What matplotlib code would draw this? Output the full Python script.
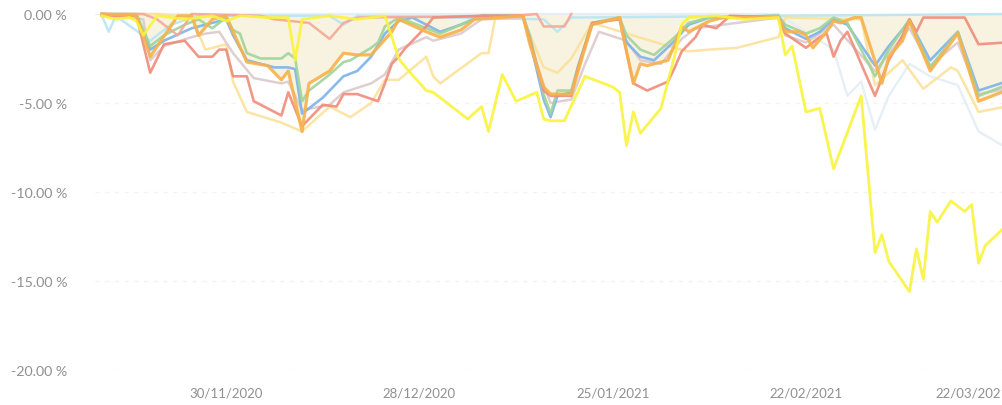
import matplotlib
matplotlib.use("Agg")
import matplotlib.pyplot as plt
import matplotlib.dates as mdates
import matplotlib.transforms as mtransforms
import pandas as pd

plt.rcParams['font.family'] = ['Lato', 'DejaVu Sans']

# drawdown series: day offsets from START and drawdown in %
START = pd.Timestamp('2020-11-12')

yellow_days = [0, 2, 4, 5, 6, 8, 12, 16, 18, 20, 24, 27, 28, 29, 33, 37, 41, 43, 44, 47, 48, 50,
               53, 55, 56, 58, 60, 63, 64, 65, 67, 70, 74, 75, 76, 77, 78, 81, 83, 84, 85, 89, 93,
               98, 99, 100, 102, 104, 106, 110, 112, 113, 114, 117, 118, 119, 120, 121, 123, 125,
               126, 127, 128, 131]
yellow_vals = [-0.1, -0.3, -0.2, -0.4, -1.2, -0.1, -0.3, -0.1, -0.4, -0.1, -0.2, -0.2, -2.6, -0.3,
               -0.1, -0.3, -0.1, -2.5, -3.0, -4.3, -4.4, -5.0, -5.9, -5.2, -6.6, -3.4, -4.9, -4.4,
               -5.9, -6.0, -6.0, -3.5, -4.1, -4.4, -7.4, -5.5, -6.7, -5.3, -2.3, -0.6, -0.2, -0.1,
               -0.3, -0.2, -2.3, -1.8, -5.5, -5.3, -8.7, -4.6, -13.4, -12.4, -13.9, -15.6, -13.2,
               -14.9, -11.1, -11.7, -10.5, -11.1, -10.7, -14.0, -13.0, -11.9]

orange_days = [0, 5, 7, 11, 13, 14, 16, 18, 19, 21, 24, 26, 27, 29, 30, 33, 35, 37, 39, 42, 43,
               47, 49, 52, 54, 61, 62, 64, 65, 68, 69, 70, 71, 75, 76, 77, 78, 79, 80, 82, 83, 84,
               85, 88, 90, 98, 99, 101, 102, 103, 105, 106, 107, 109, 110, 113, 114, 116, 117,
               120, 124, 127, 131]
orange_vals = [0.0, -0.1, -2.4, -0.1, -0.1, -1.2, -0.3, -0.1, -1.0, -2.7, -2.9, -3.7, -3.2, -6.6,
               -3.9, -3.2, -2.2, -2.3, -2.3, -1.0, -0.3, -1.0, -1.3, -0.9, -0.3, -0.1, -1.7, -4.1,
               -4.5, -4.5, -3.2, -1.9, -0.6, -0.2, -2.1, -3.9, -2.8, -2.9, -2.8, -2.6, -1.7, -0.7,
               -1.0, -0.4, -0.2, -0.2, -1.0, -1.0, -1.2, -1.9, -1.0, -0.4, -0.5, -0.2, -0.2, -3.9,
               -2.4, -1.5, -0.4, -3.2, -1.1, -4.9, -4.3]

salmon_days = [0, 5, 7, 9, 12, 14, 16, 17, 18, 19, 21, 22, 26, 27, 29, 32, 34, 35, 37, 40, 41, 42,
               43, 44, 47, 48, 55, 61, 62, 64, 65, 68, 69, 71, 75, 77, 79, 82, 83, 84, 86, 87, 89,
               91, 98, 99, 102, 104, 105, 106, 107, 108, 112, 114, 116, 117, 118, 119, 125, 127, 131]
salmon_vals = [-0.1, -0.1, -3.3, -1.7, -1.5, -2.4, -2.4, -2.0, -2.0, -3.5, -3.5, -4.9, -5.7, -4.4,
               -6.3, -5.1, -5.2, -4.5, -4.5, -4.9, -3.9, -2.8, -2.4, -1.9, -0.7, -0.2, -0.1, -0.1,
               -1.5, -4.3, -4.6, -4.6, -3.0, -0.5, -0.3, -3.9, -4.3, -3.8, -3.0, -2.1, -1.3, -0.6,
               -0.8, -0.1, -0.2, -1.1, -1.9, -1.3, -1.1, -2.4, -1.5, -1.0, -4.6, -2.6, -1.2, -0.3,
               -1.0, -0.2, -0.2, -1.7, -1.6]

coral_days = [0, 6, 8, 11, 13, 23, 25, 30, 33, 35, 37, 60, 63, 64, 67, 68]
coral_vals = [0.0, 0.0, -0.3, -1.2, 0.0, -0.1, -0.3, -0.5, -1.4, -0.5, -0.2, -0.1, 0.0, -0.7,
              -0.7, 0.0]

blue_days = [0, 5, 7, 9, 13, 16, 18, 19, 21, 23, 25, 27, 28, 29, 32, 35, 37, 39, 41, 43, 45, 47,
             49, 52, 55, 61, 62, 64, 65, 66, 68, 69, 71, 75, 76, 78, 80, 83, 85, 88, 98, 99, 102,
             104, 106, 108, 112, 114, 117, 120, 124, 127, 131]
blue_vals = [0.0, -0.1, -2.0, -1.5, -0.8, -0.5, -0.3, -1.2, -2.6, -2.8, -3.0, -3.0, -3.1, -5.6,
             -4.7, -3.5, -3.2, -2.4, -1.1, -0.4, -0.2, -0.6, -1.0, -0.6, -0.1, -0.1, -1.5, -4.8,
             -5.8, -4.6, -4.4, -3.0, -0.6, -0.2, -1.6, -2.4, -2.6, -1.5, -0.6, -0.2, -0.1, -0.8,
             -1.4, -1.0, -0.3, -0.6, -2.9, -1.8, -0.4, -2.6, -1.0, -4.3, -3.8]

green_days = [0, 5, 7, 9, 12, 14, 16, 18, 19, 20, 21, 23, 26, 27, 28, 29, 30, 33, 35, 36, 39, 40,
              41, 43, 47, 49, 52, 55, 61, 62, 64, 65, 66, 68, 69, 71, 75, 76, 78, 80, 83, 85, 88,
              98, 99, 102, 104, 106, 108, 112, 114, 117, 120, 124, 127, 131]
green_vals = [0.0, 0.0, -1.8, -1.2, -0.6, -0.3, -0.8, -0.2, -0.9, -1.1, -2.2, -2.5, -2.5, -2.2,
              -2.5, -4.9, -4.3, -3.4, -2.7, -2.6, -1.9, -1.6, -0.7, -0.2, -0.8, -1.1, -0.6, -0.1,
              -0.1, -1.2, -4.5, -5.6, -4.3, -4.3, -2.9, -0.5, -0.2, -1.2, -2.0, -2.3, -1.3, -0.5,
              -0.2, -0.1, -0.6, -1.1, -0.8, -0.2, -0.5, -3.5, -2.0, -0.3, -3.0, -1.0, -4.6, -4.0]

mauve_days = [0, 6, 7, 9, 13, 15, 17, 19, 22, 26, 27, 29, 33, 35, 39, 41, 43, 47, 48, 52, 55, 61,
              64, 65, 68, 70, 72, 76, 78, 81, 84, 86, 98, 99, 102, 106, 112, 117, 120, 124, 127, 131]
mauve_vals = [0.0, -0.3, -2.6, -1.8, -1.3, -1.1, -1.0, -2.2, -3.6, -3.9, -3.8, -5.4, -5.1, -4.4,
              -3.9, -3.4, -2.0, -1.3, -1.5, -1.1, -0.3, -0.2, -4.0, -5.0, -4.8, -2.8, -1.0, -1.5,
              -2.6, -2.8, -1.4, -0.8, -0.2, -1.2, -1.6, -0.6, -3.2, -0.8, -2.9, -1.6, -4.5, -4.2]

pale_days = [0, 8, 13, 15, 18, 19, 21, 26, 29, 33, 36, 39, 41, 43, 47, 48, 49, 55, 56, 57, 61, 64,
             66, 68, 71, 82, 85, 88, 92, 98, 99, 110, 112, 116, 119, 123, 124, 127, 131]
pale_vals = [0.0, 0.0, -0.2, -2.0, -1.7, -3.8, -5.5, -6.1, -6.6, -5.2, -5.8, -5.0, -3.7, -3.7,
             -2.4, -3.5, -3.9, -2.2, -2.2, -0.2, -0.2, -3.0, -3.3, -2.5, -0.5, -1.8, -2.1, -2.0,
             -1.9, -1.3, -0.2, -0.3, -4.0, -2.6, -4.2, -3.0, -3.2, -5.5, -5.2]

mist_days = [0, 98, 102, 106, 108, 110, 112, 114, 117, 120, 124, 127, 131]
mist_vals = [0.0, 0.0, -1.0, -2.0, -4.6, -3.8, -6.5, -4.6, -2.8, -3.5, -4.0, -6.6, -7.5]

cyan_days = [0, 1, 2, 7, 10, 14, 33, 35, 37, 64, 66, 68, 131]
cyan_vals = [-0.1, -1.0, -0.1, -1.5, -0.6, -0.1, -0.1, -0.6, -0.1, -0.3, -1.0, -0.2, 0.0]

tick_dates = ['2020-11-30', '2020-12-28', '2021-01-25', '2021-02-22', '2021-03-22']
y_ticks = [0, -5, -10, -15, -20]


def to_dates(days):
    return START + pd.to_timedelta(days, unit='D')


fig = plt.figure(figsize=(10.02, 4.06), dpi=100)
ax = fig.add_axes([95 / 1002, 35 / 406, 907 / 1002, 356 / 406])

# shaded area under the main (orange) drawdown
ax.fill_between(to_dates(orange_days), orange_vals, 0, color='#f6eed5', alpha=0.7,
                linewidth=0, zorder=1)

series = [
    (mist_days, mist_vals, '#e4eef4', 1.7),
    (cyan_days, cyan_vals, '#b9e6f3', 1.8),
    (pale_days, pale_vals, '#fbe19a', 1.8),
    (mauve_days, mauve_vals, '#dccaca', 1.8),
    (blue_days, blue_vals, '#7cb3ea', 1.9),
    (green_days, green_vals, '#9fd49a', 1.9),
    (coral_days, coral_vals, '#f5a896', 1.8),
    (salmon_days, salmon_vals, '#f08c7b', 1.9),
    (orange_days, orange_vals, '#f7b24c', 2.3),
    (yellow_days, yellow_vals, '#faf33c', 2.0),
]
for i, (d, v, c, lw) in enumerate(series):
    ax.plot(to_dates(d), v, color=c, linewidth=lw, alpha=0.9, zorder=3 + i,
            solid_joinstyle='round', clip_on=False)

# light grid
ax.axhline(0, color='#ececec', linewidth=1.5, zorder=0)
for yv in y_ticks[1:]:
    ax.axhline(yv, color='#f3f3f3', linewidth=1, linestyle=(0, (3, 4)), zorder=0)

ax.set_ylim(-20, 0)
ax.set_xlim(START - pd.Timedelta(days=1.0), START + pd.Timedelta(days=130.4))
ax.set_yticks(y_ticks)
ax.set_yticklabels([f'{v:.2f} %' for v in y_ticks])
ax.set_xticks(pd.to_datetime(tick_dates))
ax.xaxis.set_major_formatter(mdates.DateFormatter('%d/%m/%Y'))

for s in ax.spines.values():
    s.set_visible(False)
ax.tick_params(axis='both', length=0, colors='#909090')
ax.tick_params(axis='y', pad=20, labelsize=10.3)
ax.tick_params(axis='x', pad=12, labelsize=9.5)

# last date label sits a bit to the left and runs off the edge
last = ax.get_xticklabels()[-1]
last.set_transform(last.get_transform() +
                   mtransforms.ScaledTranslation(-0.27, 0, fig.dpi_scale_trans))

fig.savefig('out.png', dpi=100)
